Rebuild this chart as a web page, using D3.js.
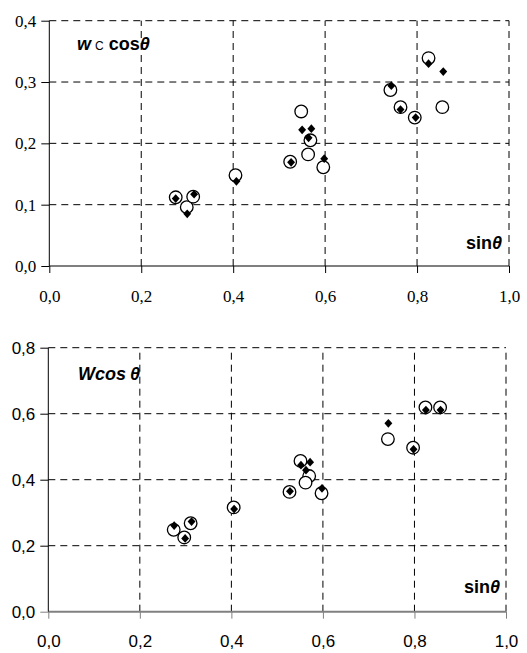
<!DOCTYPE html>
<html>
<head>
<meta charset="utf-8">
<script src="https://cdn.jsdelivr.net/npm/d3@7"></script>
<style>
  body { margin: 0; background: #fff; }
  svg { display: block; }
</style>
</head>
<body>
<svg id="chart" width="527" height="653"></svg>
<script>
// top panel: w_c cos(theta) vs sin(theta)
const topCircleX = [0.275, 0.299, 0.313, 0.405, 0.524, 0.548, 0.568, 0.563, 0.596, 0.742, 0.764, 0.795, 0.825, 0.855];
const topCircleY = [0.112, 0.096, 0.113, 0.148, 0.170, 0.252, 0.205, 0.182, 0.161, 0.287, 0.259, 0.242, 0.339, 0.259];
const topDiamondX = [0.275, 0.300, 0.315, 0.407, 0.526, 0.550, 0.570, 0.564, 0.598, 0.744, 0.764, 0.797, 0.825, 0.857];
const topDiamondY = [0.110, 0.085, 0.117, 0.138, 0.169, 0.222, 0.224, 0.209, 0.175, 0.294, 0.255, 0.242, 0.330, 0.317];

// bottom panel: W cos(theta) vs sin(theta)
const botCircleX = [0.274, 0.297, 0.311, 0.405, 0.527, 0.551, 0.570, 0.562, 0.597, 0.742, 0.797, 0.824, 0.856];
const botCircleY = [0.248, 0.225, 0.268, 0.316, 0.363, 0.457, 0.411, 0.391, 0.359, 0.523, 0.497, 0.619, 0.619];
const botDiamondX = [0.275, 0.299, 0.313, 0.406, 0.528, 0.552, 0.572, 0.563, 0.598, 0.743, 0.798, 0.825, 0.857];
const botDiamondY = [0.261, 0.222, 0.273, 0.311, 0.365, 0.444, 0.453, 0.429, 0.374, 0.571, 0.492, 0.611, 0.611];

const xTicks = [0, 0.2, 0.4, 0.6, 0.8, 1.0];
const topYTicks = [0, 0.1, 0.2, 0.3, 0.4];
const botYTicks = [0, 0.2, 0.4, 0.6, 0.8];

const svg = d3.select('#chart');
const fmt = d => d3.format('.1f')(d).replace('.', ',');
const SANS = "'Liberation Sans', Arial, sans-serif";
const SERIF = "'Liberation Serif', 'Times New Roman', serif";

function drawPanel(opt) {
    const x = d3.scaleLinear().domain([0, 1]).range([opt.x0, opt.x1]);
    const y = d3.scaleLinear().domain(opt.yDomain).range([opt.y0, opt.y1]);
    const g = svg.append('g');

    // dashed grid
    g.selectAll('line.vgrid').data(xTicks.slice(1)).enter().append('line')
        .attr('x1', d => x(d)).attr('x2', d => x(d))
        .attr('y1', y(opt.yDomain[0])).attr('y2', y(opt.yDomain[1]))
        .attr('stroke', '#000').attr('stroke-width', 1).attr('stroke-dasharray', '7,5');
    g.selectAll('line.hgrid').data(opt.yTicks.slice(1)).enter().append('line')
        .attr('x1', x(0)).attr('x2', x(1))
        .attr('y1', d => y(d)).attr('y2', d => y(d))
        .attr('stroke', '#000').attr('stroke-width', 1).attr('stroke-dasharray', '7,5');

    // axes
    const xAxis = g.append('g').attr('transform', `translate(0,${y(0)})`)
        .call(d3.axisBottom(x).tickValues(xTicks).tickFormat(fmt).tickSize(7).tickPadding(opt.xPad));
    const yAxis = g.append('g').attr('transform', `translate(${x(0)},0)`)
        .call(d3.axisLeft(y).tickValues(opt.yTicks).tickFormat(fmt).tickSize(8).tickPadding(5));
    [xAxis, yAxis].forEach(a => {
        a.attr('font-family', null).attr('font-size', null);
        a.selectAll('text').attr('fill', '#000')
            .style('font-family', opt.font).style('font-size', opt.fontSize + 'px');
        a.select('.domain').attr('stroke', '#000');
        a.selectAll('.tick line').attr('stroke', '#000');
    });
    xAxis.select('.domain').attr('d', `M${x(0)},0H${x(1)}`).attr('stroke', opt.xAxisColor).attr('stroke-width', opt.xAxisWidth);
    xAxis.selectAll('.tick line').attr('stroke', opt.xAxisColor);
    yAxis.select('.domain').attr('d', `M0,${y(opt.yDomain[0])}V${y(opt.yDomain[1])}`);
    yAxis.selectAll('.tick').filter(d => d === 0).select('line').attr('stroke', opt.xAxisColor);

    // open circles
    g.selectAll('circle.pt').data(opt.cx.map((v, i) => [v, opt.cy[i]])).enter().append('circle')
        .attr('cx', d => x(d[0])).attr('cy', d => y(d[1])).attr('r', 6.3)
        .attr('fill', '#fff').attr('stroke', '#000').attr('stroke-width', 1.3);

    // filled diamonds
    const diamond = d3.symbol().type(d3.symbolDiamond2).size(44);
    g.selectAll('path.dm').data(opt.dx.map((v, i) => [v, opt.dy[i]])).enter().append('path')
        .attr('d', diamond)
        .attr('transform', d => `translate(${x(d[0])},${y(d[1])}) scale(0.95,1.05)`)
        .attr('fill', '#000');

    // axis labels
    const lab = g.append('text').attr('x', opt.labX).attr('y', opt.labY)
        .style('font-family', SANS)
        .style('font-size', '18px').style('font-weight', 'bold');
    opt.label.forEach(p => {
        const t = lab.append('tspan').text(p.t);
        if (p.italic) t.style('font-style', 'italic');
        if (p.small) t.style('font-size', '12px').style('font-weight', 'normal');
        if (p.dx) t.attr('dx', p.dx);
    });
    g.append('text').attr('x', opt.sinX).attr('y', opt.sinY).attr('text-anchor', 'end')
        .style('font-family', SANS)
        .style('font-size', '18px').style('font-weight', 'bold')
        .text('sin').append('tspan').style('font-style', 'italic').text('θ');
}

drawPanel({
    x0: 49.3, x1: 509, y0: 266, y1: 20.7, yDomain: [0, 0.4], yTicks: topYTicks,
    font: SERIF, fontSize: 17, xPad: 17,
    xAxisColor: '#000', xAxisWidth: 1.2,
    cx: topCircleX, cy: topCircleY, dx: topDiamondX, dy: topDiamondY,
    labX: 77, labY: 50,
    label: [{ t: 'w', italic: true }, { t: 'C', small: true, dx: 4 }, { t: 'cos', dx: 5 }, { t: 'θ', italic: true }],
    sinX: 502, sinY: 249
});

drawPanel({
    x0: 48.3, x1: 506, y0: 611.7, y1: 347.7, yDomain: [0, 0.8], yTicks: botYTicks,
    font: SANS, fontSize: 17, xPad: 16,
    xAxisColor: '#808080', xAxisWidth: 2,
    cx: botCircleX, cy: botCircleY, dx: botDiamondX, dy: botDiamondY,
    labX: 78, labY: 380,
    label: [{ t: 'Wcos', italic: true }, { t: 'θ', italic: true, dx: 4 }],
    sinX: 500, sinY: 593
});
</script>
</body>
</html>
